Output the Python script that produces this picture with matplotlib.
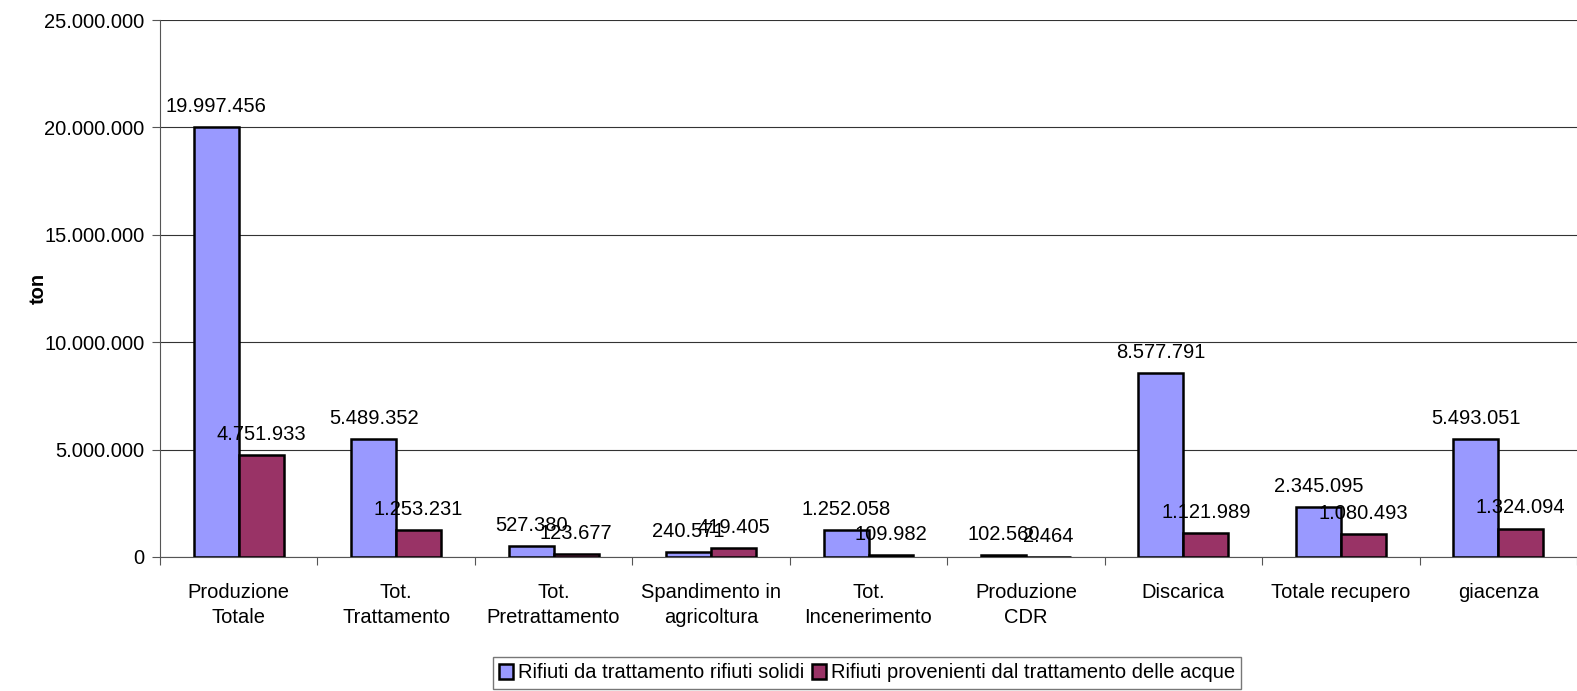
import numpy as np
import matplotlib
matplotlib.use("Agg")
import matplotlib.pyplot as plt
from matplotlib.ticker import FuncFormatter, FixedLocator

plt.rcParams['font.family'] = ['Liberation Sans', 'DejaVu Sans']

# -------------------- dati --------------------
categorie = ["Produzione\nTotale", "Tot.\nTrattamento", "Tot.\nPretrattamento",
             "Spandimento in\nagricoltura", "Tot.\nIncenerimento", "Produzione\nCDR",
             "Discarica", "Totale recupero", "giacenza"]
solidi = [19997456, 5489352, 527380, 240571, 1252058, 102560, 8577791, 2345095, 5493051]
acque = [4751933, 1253231, 123677, 419405, 109982, 2464, 1121989, 1080493, 1324094]
nomi_serie = ["Rifiuti da trattamento rifiuti solidi",
              "Rifiuti provenienti dal trattamento delle acque"]
yticks = [0, 5000000, 10000000, 15000000, 20000000, 25000000]

FS = 14.5


def fmt_it(v):
    return f"{int(v):,}".replace(",", ".")


fig = plt.figure(figsize=(15.77, 6.91), dpi=100)
ax = fig.add_axes([160 / 1577, 1 - 557 / 691, 1 - 160 / 1577, (557 - 20) / 691])

n = len(categorie)
x = np.arange(n)
w = 1 / 3.5
b1 = ax.bar(x - w / 2, solidi, w, color="#9999FF", edgecolor="black", linewidth=1.8,
            label=nomi_serie[0], zorder=3)
b2 = ax.bar(x + w / 2, acque, w, color="#993366", edgecolor="black", linewidth=1.8,
            label=nomi_serie[1], zorder=3)

# etichette dei valori (si sovrappongono come nell'originale)
for bars, vals in [(b1, solidi), (b2, acque)]:
    for r, v in zip(bars, vals):
        ax.annotate(fmt_it(v), (r.get_x() + r.get_width() / 2, v), xytext=(0, 8),
                    textcoords="offset points", ha="center", va="bottom", fontsize=FS,
                    zorder=5)

ax.set_xlim(-0.5, n - 0.5)
ax.set_ylim(0, 25000000)
ax.yaxis.set_major_locator(FixedLocator(yticks))
ax.yaxis.set_major_formatter(FuncFormatter(lambda v, p: fmt_it(v)))
ax.grid(axis="y", color="#333333", linewidth=0.8, zorder=0)
ax.set_axisbelow(True)

# tick delle categorie ai bordi, etichette al centro
ax.set_xticks(np.arange(n + 1) - 0.5)
ax.set_xticklabels([])
ax.set_xticks(x, minor=True)
ax.set_xticklabels(categorie, minor=True, fontsize=FS, va="top", linespacing=1.35)
ax.tick_params(axis="x", which="minor", length=0, pad=19)
ax.tick_params(axis="x", which="major", length=6, direction="out", color="#555555")
ax.tick_params(axis="y", length=6, direction="out", labelsize=FS, color="#555555", pad=5)

for s in ["top", "right"]:
    ax.spines[s].set_visible(False)
ax.spines["left"].set_color("#555555")
ax.spines["bottom"].set_color("#555555")

ax.set_ylabel("ton", fontsize=FS, fontweight="bold")
ax.yaxis.set_label_coords(-0.079, 0.5)

leg = fig.legend(loc="center", bbox_to_anchor=(867 / 1577, 1 - 673 / 691), ncol=2,
                 fontsize=FS, frameon=True, fancybox=False, handlelength=0.7,
                 handleheight=0.7, handletextpad=0.25, columnspacing=0.4,
                 borderpad=0.3, borderaxespad=0)
leg.get_frame().set_edgecolor("#555555")
leg.get_frame().set_linewidth(1.0)

fig.savefig("out.png", dpi=100)
